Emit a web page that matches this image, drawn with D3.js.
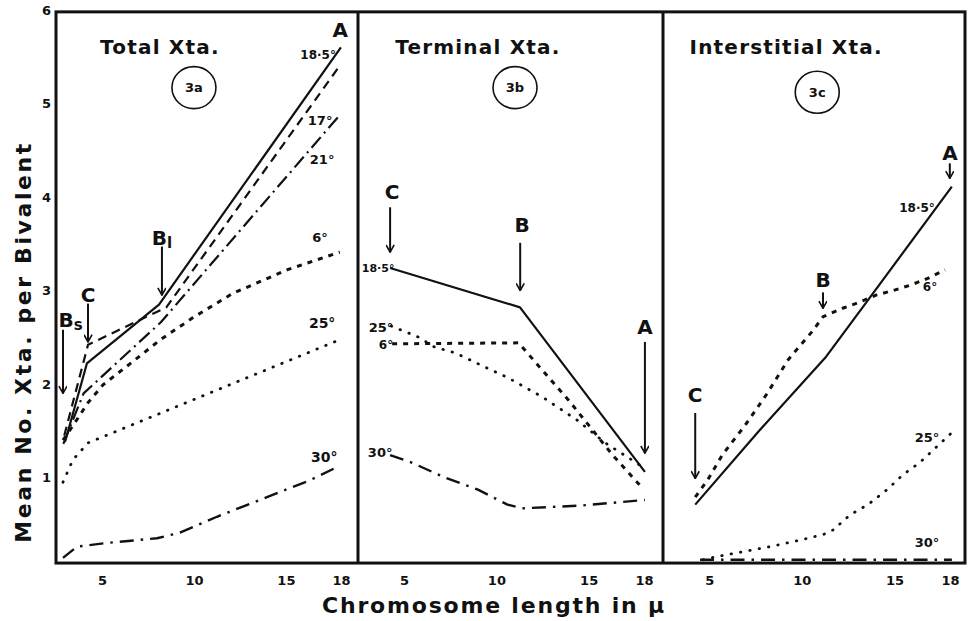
<!DOCTYPE html>
<html>
<head>
<meta charset="utf-8">
<script src="https://cdn.jsdelivr.net/npm/d3@7"></script>
<style>
  body { margin: 0; background: #fff; }
  svg text { font-family: "DejaVu Sans", sans-serif; font-weight: bold; fill: #111; }
</style>
</head>
<body>
<svg id="chart" width="972" height="621"></svg>
<script>
// tick labels
const xTicks = [5, 10, 15, 18];
const yTicks = [1, 2, 3, 4, 5, 6];

// 3a  Total Xta.   [chromosome length, mean xta]
const total185 = [[2.99, 1.38], [4.18, 2.22], [8.1, 2.85], [17.99, 5.6]];
const total17 = [[2.95, 1.45], [4.24, 2.42], [8.5, 2.82], [17.95, 5.41]];
const total21 = [[2.9, 1.36], [4.0, 1.9], [8.2, 2.66], [17.9, 4.87]];
const total6 = [[2.88, 1.4], [3.37, 1.54], [4.24, 1.8], [5.05, 1.99], [6.68, 2.24], [8.15, 2.47],
  [9.95, 2.71], [12.12, 2.97], [15.05, 3.22], [17.93, 3.41]];
const total25 = [[2.88, 0.95], [3.42, 1.19], [4.24, 1.37], [17.88, 2.47]];
const total30 = [[2.88, 0.14], [3.64, 0.26], [5.27, 0.3], [7.99, 0.35], [9.24, 0.41], [11.25, 0.58],
  [13.97, 0.79], [16.3, 0.97], [17.77, 1.11]];

// 3b  Terminal Xta.
const term185 = [[4.24, 3.24], [11.28, 2.82], [18.05, 1.06]];
const term6 = [[4.35, 2.43], [11.2, 2.44], [13.9, 1.83], [16.3, 1.24], [17.9, 0.89]];
const term25 = [[4.3, 2.62], [5.8, 2.5], [6.6, 2.4], [7.8, 2.33], [9.4, 2.18], [10.6, 2.07],
  [12.5, 1.86], [14.4, 1.61], [15.9, 1.37], [17.8, 1.13]];
const term30 = [[4.24, 1.24], [5.4, 1.16], [7.2, 1.0], [9.0, 0.87], [10.6, 0.71], [11.4, 0.67],
  [14.6, 0.7], [18.05, 0.76]];

// 3c  Interstitial Xta.
const inter185 = [[4.24, 0.71], [7.74, 1.51], [11.26, 2.28], [13.69, 2.93], [18.1, 4.11]];
const inter6 = [[4.24, 0.79], [4.9, 0.97], [5.7, 1.24], [6.94, 1.56], [8.13, 1.9], [9.26, 2.26],
  [10.55, 2.56], [11.15, 2.72], [12.2, 2.81], [13.04, 2.87], [14.0, 2.95], [14.93, 3.0],
  [15.9, 3.06], [16.8, 3.13], [17.73, 3.22]];
const inter25 = [[4.67, 0.12], [5.31, 0.15], [6.66, 0.2], [8.28, 0.26], [9.9, 0.33], [11.15, 0.39],
  [11.69, 0.44], [12.6, 0.6], [13.57, 0.71], [14.6, 0.87], [15.46, 1.03], [16.37, 1.16],
  [17.29, 1.33], [18.1, 1.48]];
const inter30 = [[4.5, 0.12], [18.1, 0.12]];

// line style per temperature
const lineStyle = {
  "18.5": { dash: null, width: 2.2, cap: "butt" },
  "17": { dash: "9 6", width: 2.2, cap: "butt" },
  "21": { dash: "14 5 2 5", width: 2.2, cap: "butt" },
  "6": { dash: "5 6", width: 3, cap: "butt" },
  "25": { dash: "0.5 9", width: 2.8, cap: "round" },
  "30": { dash: "14 7 2.5 7", width: 2.4, cap: "butt" }
};

const panels = [
  { title: "Total Xta.", tag: "3a", left: 56, right: 358, domain: [2.5, 18.92], tx: 8.15, cx: 10.0, cy: 5.17,
    series: [["18.5", total185], ["17", total17], ["21", total21], ["6", total6], ["25", total25], ["30", total30]] },
  { title: "Terminal Xta.", tag: "3b", left: 358, right: 663, domain: [2.5, 19.03], tx: 9.0, cx: 11.01, cy: 5.17,
    series: [["18.5", term185], ["6", term6], ["25", term25], ["30", term30]] },
  { title: "Interstitial Xta.", tag: "3c", left: 663, right: 965, domain: [2.5, 18.81], tx: 9.15, cx: 10.83, cy: 5.12,
    series: [["18.5", inter185], ["6", inter6], ["25", inter25], ["30", inter30]] }
];

// labels [panel, text, x, y, size]
const labels = [
  [0, "A", 17.95, 5.79, 20], [0, "18·5°", 16.75, 5.52, 12], [0, "17°", 16.86, 4.82, 13],
  [0, "21°", 16.97, 4.4, 13], [0, "6°", 16.86, 3.57, 13], [0, "25°", 16.97, 2.65, 14],
  [0, "30°", 17.08, 1.22, 14], [0, "C", 4.24, 2.95, 20],
  [1, "C", 4.35, 4.05, 20], [1, "18·5°", 3.59, 3.24, 11], [1, "B", 11.39, 3.7, 20],
  [1, "A", 18.06, 2.61, 20], [1, "25°", 3.75, 2.6, 13], [1, "6°", 4.02, 2.42, 12], [1, "30°", 3.7, 1.27, 13],
  [2, "A", 18.0, 4.47, 20], [2, "18·5°", 16.22, 3.88, 12], [2, "B", 11.15, 3.11, 20],
  [2, "6°", 16.92, 3.04, 12], [2, "C", 4.24, 1.88, 20], [2, "25°", 16.76, 1.43, 13], [2, "30°", 16.76, 0.31, 13]
];
// subscripted B labels [panel, sub, x, y]
const subLabels = [[0, "s", 3.3, 2.68], [0, "l", 8.26, 3.56]];
// arrows [panel, x, yFrom, yTo]
const arrows = [
  [0, 4.24, 2.86, 2.45], [0, 2.88, 2.58, 1.9], [0, 8.26, 3.47, 2.95],
  [1, 4.24, 3.89, 3.41], [1, 11.29, 3.51, 3.0], [1, 18.05, 2.45, 1.26],
  [2, 17.99, 4.36, 4.2], [2, 11.14, 2.98, 2.81], [2, 4.24, 1.69, 0.99]
];

const svg = d3.select("#chart");
const y = d3.scaleLinear().domain([0, 6]).range([571, 10]);
const yFrame = [0.085, 5.98];

svg.append("defs").append("marker")
  .attr("id", "head")
  .attr("viewBox", "0 0 10 10")
  .attr("refX", 9).attr("refY", 5)
  .attr("markerWidth", 9).attr("markerHeight", 9)
  .attr("markerUnits", "userSpaceOnUse")
  .attr("orient", "auto")
  .append("path")
  .attr("d", "M1,0.5 L9,5 L1,9.5")
  .attr("fill", "none").attr("stroke", "#111").attr("stroke-width", 1.8);

const scales = panels.map(p => d3.scaleLinear().domain(p.domain).range([p.left, p.right]));

panels.forEach(function (p, i) {
  const x = scales[i];
  const g = svg.append("g");

  const line = d3.line().x(d => x(d[0])).y(d => y(d[1]));
  p.series.forEach(function (s) {
    const st = lineStyle[s[0]];
    g.append("path")
      .datum(s[1])
      .attr("d", line)
      .attr("fill", "none")
      .attr("stroke", "#111")
      .attr("stroke-width", st.width)
      .attr("stroke-linecap", st.cap)
      .attr("stroke-linejoin", "round")
      .attr("stroke-dasharray", st.dash);
  });

  // x axis labels
  g.append("g")
    .attr("transform", "translate(0," + y(yFrame[0]) + ")")
    .call(d3.axisBottom(x).tickValues(xTicks).tickSize(0).tickPadding(13))
    .call(a => a.select(".domain").remove())
    .selectAll("text").style("font-size", "13px").style("font-family", "DejaVu Sans").style("font-weight", "bold");

  g.append("text")
    .attr("x", x(p.tx)).attr("y", y(5.6))
    .attr("text-anchor", "middle").attr("dominant-baseline", "central")
    .style("font-size", "20px").style("letter-spacing", "1.2px")
    .text(p.title);

  g.append("ellipse")
    .attr("cx", x(p.cx)).attr("cy", y(p.cy))
    .attr("rx", 22).attr("ry", 21)
    .attr("fill", "none").attr("stroke", "#111").attr("stroke-width", 1.6);
  g.append("text")
    .attr("x", x(p.cx)).attr("y", y(p.cy))
    .attr("text-anchor", "middle").attr("dominant-baseline", "central")
    .style("font-size", "13px")
    .text(p.tag);
});

labels.forEach(function (l) {
  svg.append("text")
    .attr("x", scales[l[0]](l[2])).attr("y", y(l[3]))
    .attr("text-anchor", "middle").attr("dominant-baseline", "central")
    .style("font-size", l[4] + "px")
    .text(l[1]);
});

subLabels.forEach(function (l) {
  const t = svg.append("text")
    .attr("x", scales[l[0]](l[2])).attr("y", y(l[3]))
    .attr("text-anchor", "middle").attr("dominant-baseline", "central")
    .style("font-size", "20px");
  t.append("tspan").text("B");
  t.append("tspan").attr("dy", 5).style("font-size", "15px").text(l[1]);
});

arrows.forEach(function (a) {
  const x = scales[a[0]];
  svg.append("line")
    .attr("x1", x(a[1])).attr("x2", x(a[1]))
    .attr("y1", y(a[2])).attr("y2", y(a[3]))
    .attr("stroke", "#111").attr("stroke-width", 2)
    .attr("marker-end", "url(#head)");
});

// frame: outer box and panel dividers
svg.append("rect")
  .attr("x", panels[0].left).attr("y", y(yFrame[1]))
  .attr("width", panels[2].right - panels[0].left)
  .attr("height", y(yFrame[0]) - y(yFrame[1]))
  .attr("fill", "none").attr("stroke", "#111").attr("stroke-width", 3);
[panels[1].left, panels[2].left].forEach(function (px) {
  svg.append("line")
    .attr("x1", px).attr("x2", px)
    .attr("y1", y(yFrame[1])).attr("y2", y(yFrame[0]))
    .attr("stroke", "#111").attr("stroke-width", 3);
});

// y axis
svg.append("g")
  .attr("transform", "translate(" + panels[0].left + ",0)")
  .call(d3.axisLeft(y).tickValues(yTicks).tickFormat(d3.format("d")).tickSize(0).tickPadding(5))
  .call(a => a.select(".domain").remove())
  .selectAll("text").style("font-size", "13px").style("font-family", "DejaVu Sans").style("font-weight", "bold");

svg.append("text")
  .attr("transform", "translate(23," + y(2.45) + ") rotate(-90)")
  .attr("text-anchor", "middle").attr("dominant-baseline", "central")
  .style("font-size", "22px").style("letter-spacing", "2.6px")
  .text("Mean No. Xta. per Bivalent");

svg.append("text")
  .attr("x", 494).attr("y", 605)
  .attr("text-anchor", "middle").attr("dominant-baseline", "central")
  .style("font-size", "22px").style("letter-spacing", "1.8px")
  .text("Chromosome length in μ");
</script>
</body>
</html>
